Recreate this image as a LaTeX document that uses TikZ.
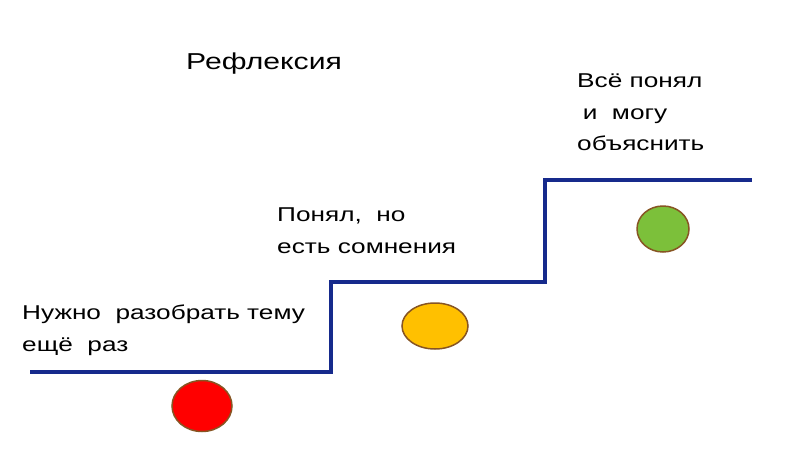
\documentclass[tikz,border=0pt]{standalone}
\usepackage{fontspec}
\setmainfont{Liberation Sans}[FakeStretch=1.31]
\usetikzlibrary{shapes.geometric}
\definecolor{stairblue}{RGB}{22,42,140}
\definecolor{rimbrown}{RGB}{135,85,35}
\definecolor{dotred}{RGB}{255,0,0}
\definecolor{dotyellow}{RGB}{255,192,0}
\definecolor{dotgreen}{RGB}{124,192,58}
\tikzset{
  stair/.style={draw=stairblue, line width=3.2pt, line join=miter},
  dot/.style={ellipse, draw=rimbrown, line width=1.5pt, inner sep=0pt},
  label/.style={anchor=north west, inner sep=0pt, align=left, text=black,
    font=\fontsize{20}{31.5}\selectfont},
  title/.style={anchor=base west, inner sep=0pt, text=black,
    font=\fontsize{23}{28}\selectfont}
}
\begin{document}
\begin{tikzpicture}[x=1pt, y=-1pt]
\useasboundingbox (0,0) rectangle (800,450);
\fill[white] (0,0) rectangle (800,450);
% title
\node[title] (ttl) at (186,69) {Рефлексия};
% stair
\coordinate (s0) at (30,372);
\coordinate (s1) at (331,372);
\coordinate (s2) at (331,282);
\coordinate (s3) at (545,282);
\coordinate (s4) at (545,180);
\coordinate (s5) at (752,180);
\draw[stair] (s0) -- (s1) -- (s2) -- (s3) -- (s4) -- (s5);
% labels
\node[label] (t1) at (22,305) {Нужно~ разобрать тему\\ещё~ раз};
\node[label] (t2) at (277,208) {Понял,~ но\\есть сомнения};
\node[label] (t3) at (577,74) {Всё понял\\\hspace*{0.28em}и~ могу\\объяснить};
% dots
\node[dot, fill=dotred, minimum width=60pt, minimum height=51pt] (d1) at (202,406) {};
\node[dot, fill=dotyellow, minimum width=66pt, minimum height=46pt] (d2) at (435,326) {};
\node[dot, fill=dotgreen, minimum width=52pt, minimum height=46pt] (d3) at (663,229) {};
\end{tikzpicture}
\end{document}
